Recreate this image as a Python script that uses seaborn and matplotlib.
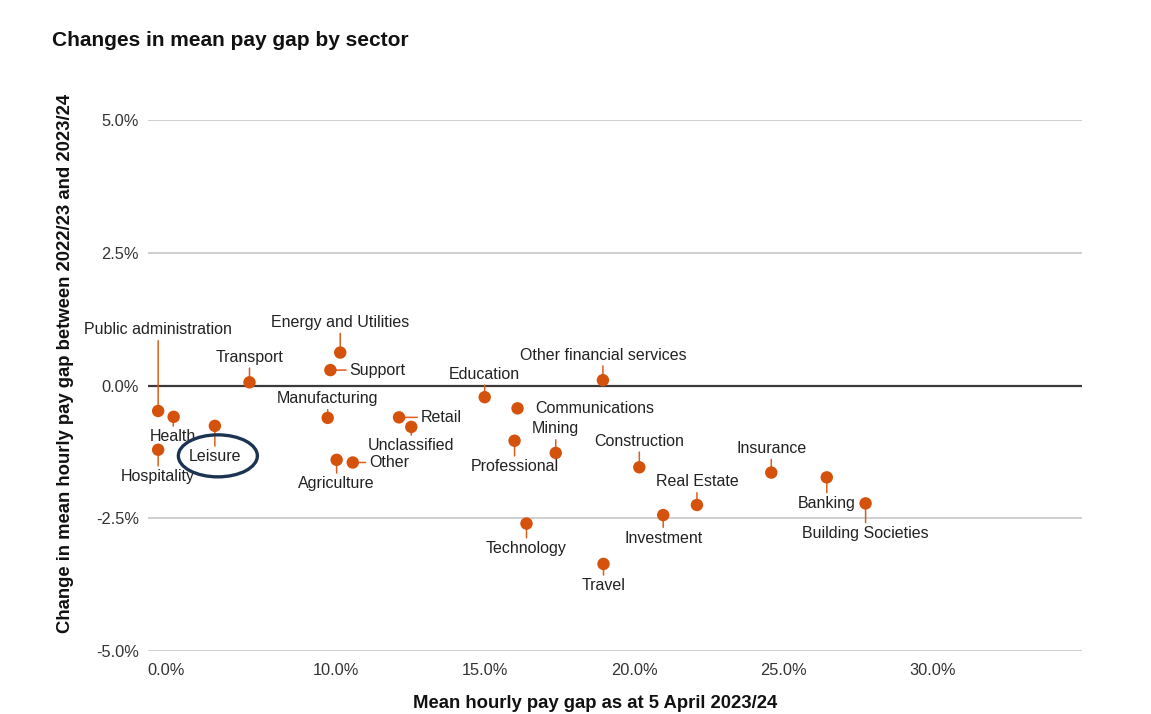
import matplotlib
matplotlib.use("Agg")
import matplotlib.pyplot as plt
import pandas as pd
import seaborn as sns
from matplotlib.patches import Ellipse
from matplotlib.transforms import Affine2D, ScaledTranslation

# ---------------- data ----------------
sectors = [
    "Public administration", "Health", "Hospitality", "Leisure", "Transport",
    "Energy and Utilities", "Support", "Manufacturing", "Agriculture", "Other",
    "Retail", "Unclassified", "Education", "Communications", "Professional",
    "Mining", "Technology", "Other financial services", "Construction", "Travel",
    "Investment", "Real Estate", "Insurance", "Banking", "Building Societies",
]
mean_pay_gap = [
    4.04, 4.56, 4.04, 5.94, 7.10,
    10.14, 9.81, 9.72, 10.02, 10.56,
    12.11, 12.52, 14.98, 16.08, 15.98,
    17.36, 16.38, 18.94, 20.16, 18.96,
    20.96, 22.09, 24.58, 26.44, 27.74,
]
change_in_gap = [
    -0.48, -0.59, -1.21, -0.76, 0.06,
    0.62, 0.29, -0.61, -1.40, -1.45,
    -0.60, -0.78, -0.22, -0.43, -1.04,
    -1.27, -2.60, 0.10, -1.54, -3.36,
    -2.44, -2.25, -1.64, -1.73, -2.22,
]
x_tick_values = [4.3, 10, 15, 20, 25, 30]
x_tick_labels = ["0.0%", "10.0%", "15.0%", "20.0%", "25.0%", "30.0%"]
y_tick_values = [-5, -2.5, 0, 2.5, 5]
y_tick_labels = ["-5.0%", "-2.5%", "0.0%", "2.5%", "5.0%"]
highlighted = "Leisure"

title = "Changes in mean pay gap by sector"
x_label = "Mean hourly pay gap as at 5 April 2023/24"
y_label = "Change in mean hourly pay gap between 2022/23 and 2023/24"

# ---------------- label layout (pixel offsets, leader line?) ----------------
label_layout = {
    "Public administration": (0, 81, True),
    "Health": (-1, -20, True),
    "Hospitality": (0, -27, True),
    "Leisure": (0, -31, True),
    "Transport": (0, 25, True),
    "Energy and Utilities": (0, 30, True),
    "Support": (47, 0, True),
    "Manufacturing": (0, 19, True),
    "Agriculture": (0, -24, True),
    "Other": (36, 0, True),
    "Retail": (42, 0, True),
    "Unclassified": (0, -19, True),
    "Education": (0, 23, True),
    "Communications": (77, 0, False),
    "Professional": (0, -26, True),
    "Mining": (0, 24, True),
    "Technology": (0, -25, True),
    "Other financial services": (0, 25, True),
    "Construction": (0, 26, True),
    "Travel": (0, -22, True),
    "Investment": (0, -23, True),
    "Real Estate": (0, 23, True),
    "Insurance": (0, 24, True),
    "Banking": (0, -26, True),
    "Building Societies": (0, -30, True),
}

dot_color = "#D4520B"
line_color = "#DA5F1C"
navy = "#1C3452"
text_color = "#222222"

sns.set_theme(style="white")
plt.rcParams["font.family"] = ["Liberation Sans", "DejaVu Sans"]

W, H = 1151, 714
fig = plt.figure(figsize=(W / 100, H / 100), dpi=100)
fig.patch.set_facecolor("white")
ax = fig.add_axes([148 / W, 1 - 651 / H, (1082 - 148) / W, (651 - 120) / H])

df = pd.DataFrame({"sector": sectors, "gap": mean_pay_gap, "change": change_in_gap})

ax.set_xlim(3.70, 34.99)
ax.set_ylim(-5, 5)
ax.set_autoscale_on(False)

sns.scatterplot(data=df, x="gap", y="change", ax=ax, color=dot_color, s=80,
                edgecolor="none", linewidth=0, zorder=5, legend=False)

ax.set_xlim(3.70, 34.99)
ax.set_ylim(-5, 5)

# grid & zero line
ax.yaxis.grid(True, color="#cfcfcf", linewidth=1.4)
ax.xaxis.grid(False)
ax.axhline(0, color="#3a3a3a", linewidth=1.6, zorder=2)
for s in ax.spines.values():
    s.set_visible(False)

ax.set_xticks(x_tick_values, x_tick_labels)
ax.set_yticks(y_tick_values, y_tick_labels)
ax.tick_params(axis="x", length=0, pad=8.5, labelsize=11.8, labelcolor="#333333")
ax.tick_params(axis="y", length=0, pad=6.5, labelsize=11.8, labelcolor="#333333")
ax.set_xlabel("")
ax.set_ylabel("")

# labels with leader lines
for name, xv, yv in zip(sectors, mean_pay_gap, change_in_gap):
    dx, dy, leader = label_layout[name]
    props = dict(arrowstyle="-", color=line_color, lw=1.1, shrinkA=0, shrinkB=0) if leader else None
    ax.annotate(name, xy=(xv, yv), xytext=(dx, dy), textcoords="offset pixels",
                ha="center", va="center", fontsize=11.5, color=text_color,
                arrowprops=props, zorder=3)

# highlight ellipse around the highlighted sector label
hi = sectors.index(highlighted)
trans = Affine2D().translate(3, -30) + ScaledTranslation(mean_pay_gap[hi], change_in_gap[hi], ax.transData)
ell = Ellipse((0, 0), 79, 42, transform=trans, fill=False, edgecolor=navy, linewidth=2.4, zorder=6)
ax.add_patch(ell)

# titles
fig.text(52 / W, 1 - 46 / H, title, ha="left", va="baseline", fontsize=15,
         fontweight="bold", color="#111111")
fig.text(66 / W, 1 - 363 / H, y_label, rotation=90, ha="center", va="center",
         fontsize=13.3, fontweight="bold", color="#111111")
fig.text(595 / W, 2 / H, x_label, ha="center", va="bottom",
         fontsize=13.3, fontweight="bold", color="#111111")

fig.savefig("out.png", dpi=100, facecolor="white")
